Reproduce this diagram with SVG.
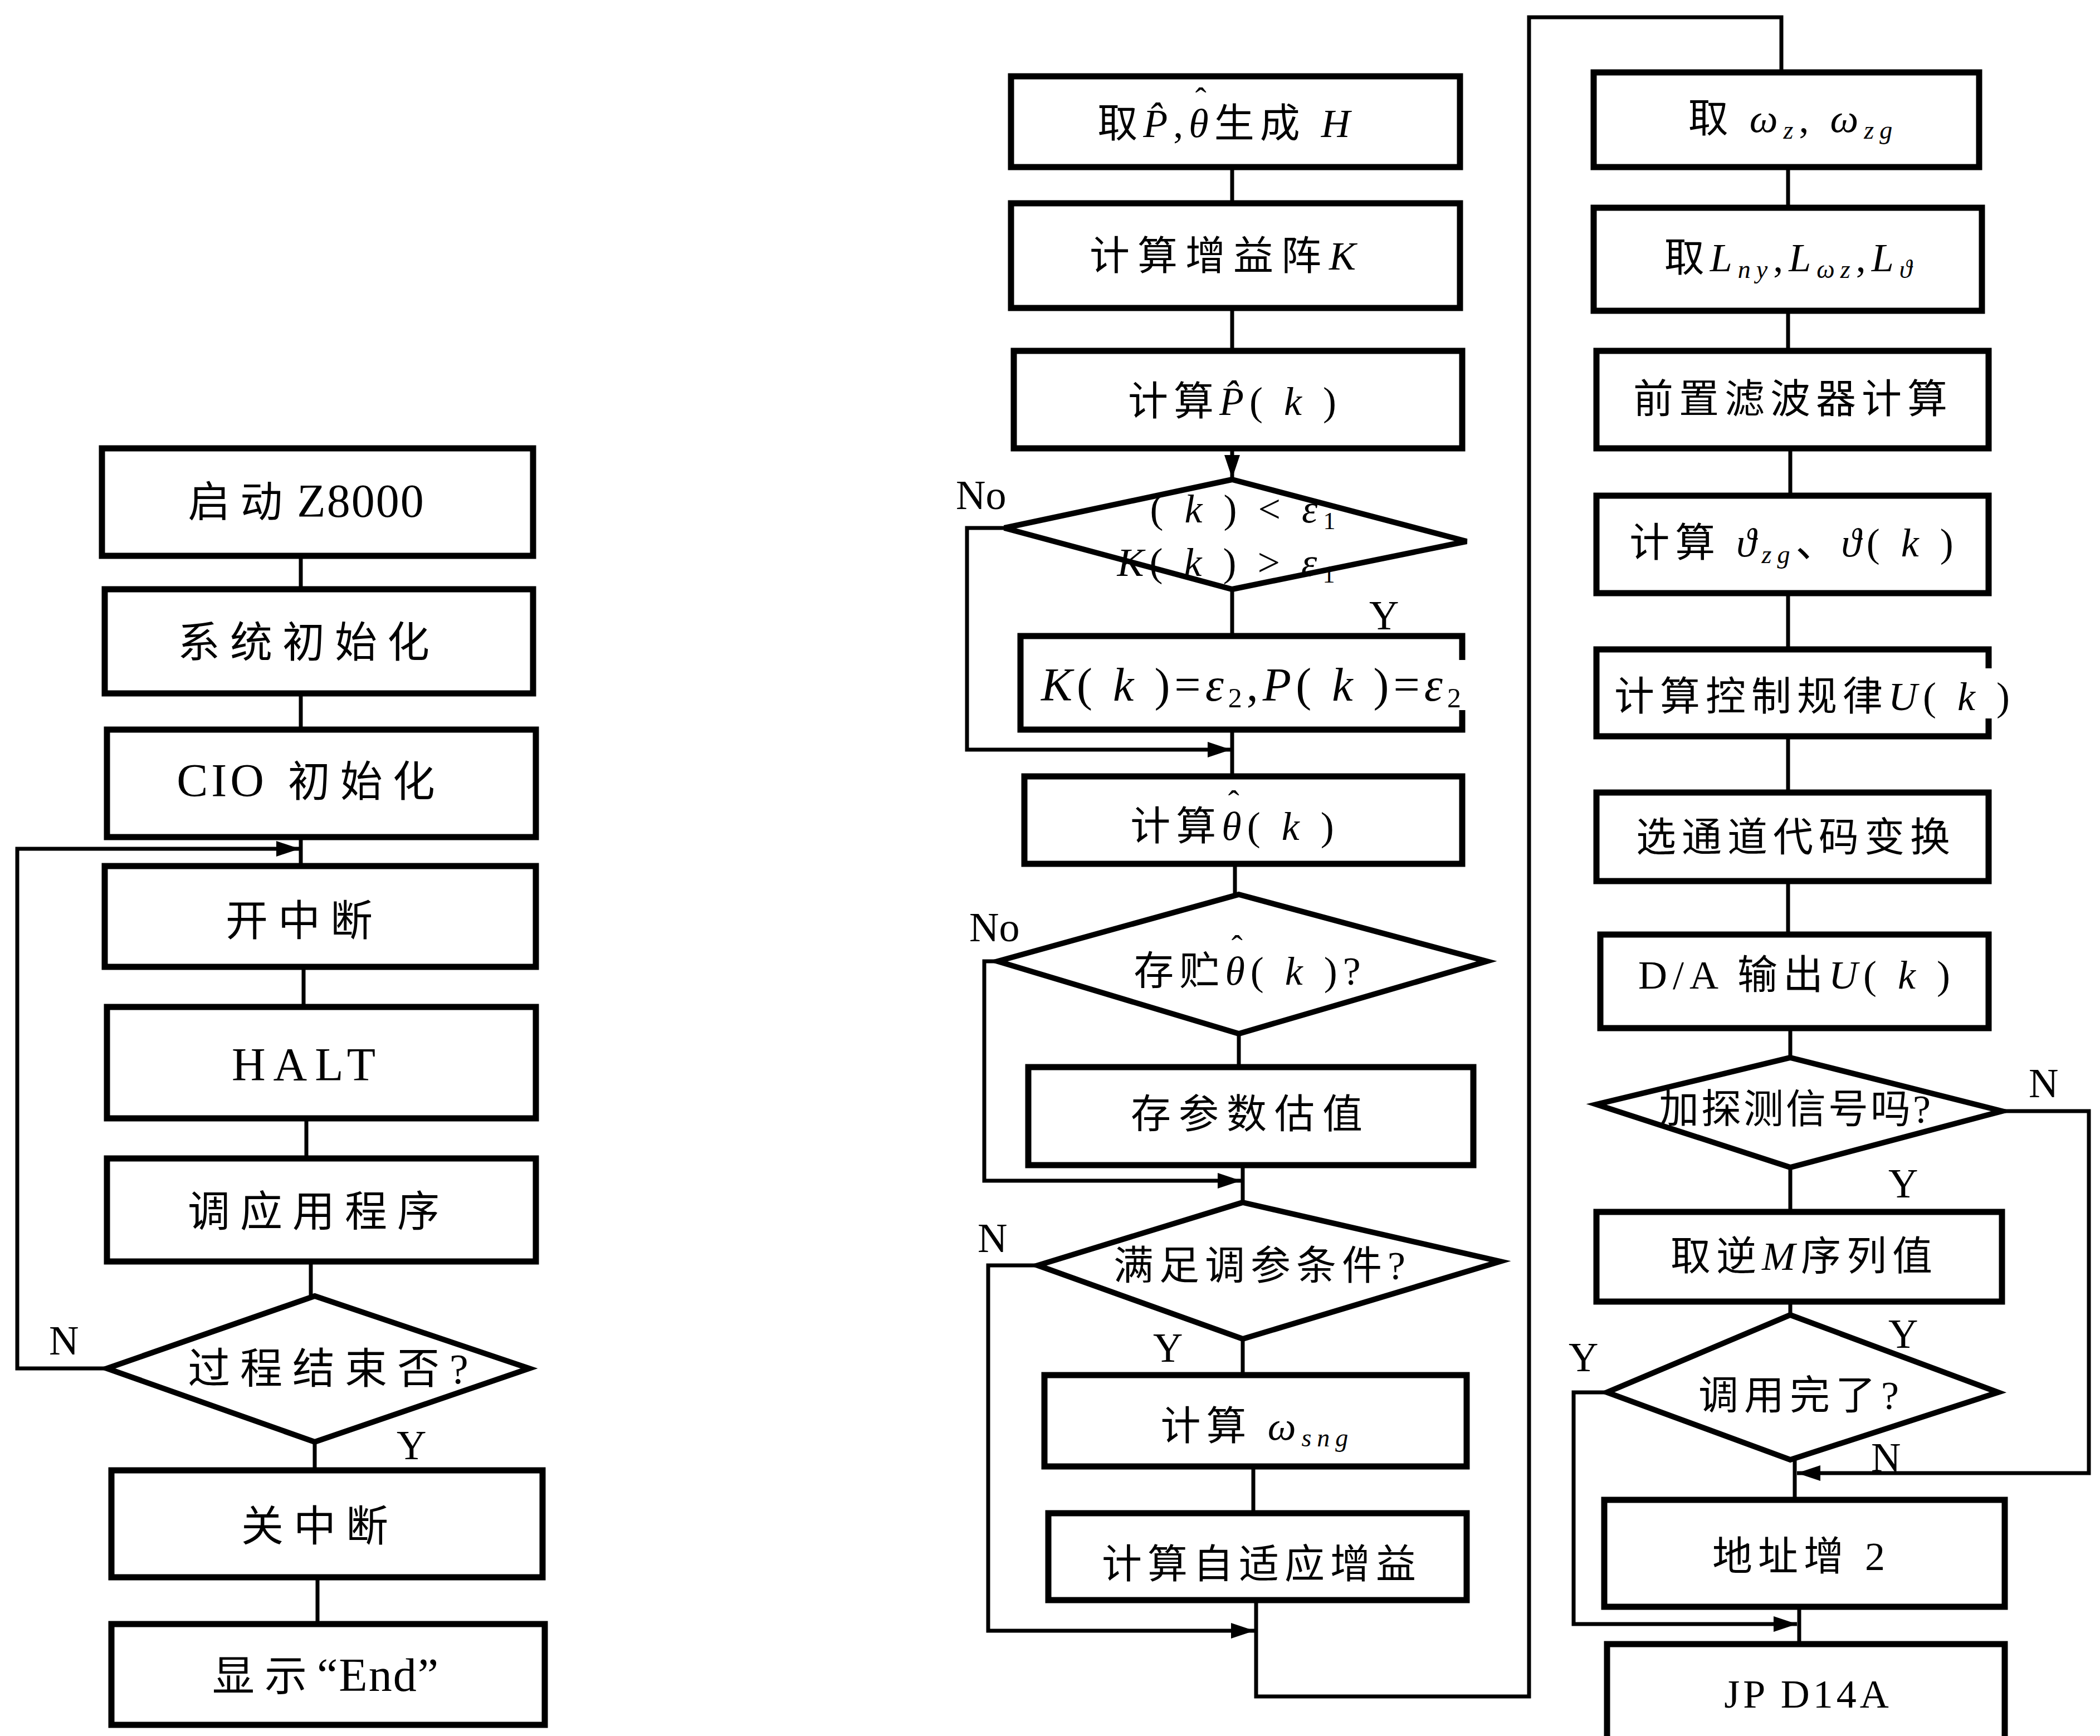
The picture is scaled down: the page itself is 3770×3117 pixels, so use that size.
<svg xmlns="http://www.w3.org/2000/svg" width="3770" height="3117" viewBox="0 0 3770 3117">
<defs>
<style>
.box{fill:none;stroke:#000;stroke-width:11}
.dia{fill:none;stroke:#000;stroke-width:10;stroke-linejoin:miter}
.ln{fill:none;stroke:#000;stroke-width:7}
.t{font-family:"Liberation Serif","DejaVu Serif","Noto Sans CJK SC",serif;font-size:72px;text-anchor:middle;fill:#000;letter-spacing:10px}
.tl{font-size:76px;letter-spacing:18px}
.lab{font-family:"Liberation Serif","DejaVu Serif",serif;font-size:74px;fill:#000}
.m{font-style:italic}
.la{letter-spacing:2px;font-size:84px}
</style>
<marker id="ah" markerWidth="6" markerHeight="4" refX="6" refY="2" orient="auto" markerUnits="strokeWidth"><path d="M0,0 L6,2 L0,4 z" fill="#000"/></marker>
</defs>
<rect width="3770" height="3117" fill="#fff"/>

<g id="connectors">
<path class="ln" d="M540,998 V1058"/>
<path class="ln" d="M540,1245 V1310"/>
<path class="ln" d="M540,1503 V1555"/>
<path class="ln" d="M545,1736 V1808"/>
<path class="ln" d="M550,2008 V2080"/>
<path class="ln" d="M558,2265 V2327"/>
<path class="ln" d="M565,2589 V2640"/>
<path class="ln" d="M570,2832 V2916"/>
<path class="ln" d="M192,2457 H31 V1524 H538" marker-end="url(#ah)"/>
<path class="ln" d="M2212,300 V365"/>
<path class="ln" d="M2212,553 V630"/>
<path class="ln" d="M2212,805 V859" marker-end="url(#ah)"/>
<path class="ln" d="M2212,1058 V1142"/>
<path class="ln" d="M2212,1310 V1394"/>
<path class="ln" d="M1803,948 H1736 V1346 H2210" marker-end="url(#ah)"/>
<path class="ln" d="M2217,1551 V1606"/>
<path class="ln" d="M2224,1856 V1916"/>
<path class="ln" d="M1791,1726 H1767 V2120 H2228" marker-end="url(#ah)"/>
<path class="ln" d="M2231,2092 V2159"/>
<path class="ln" d="M2231,2404 V2469"/>
<path class="ln" d="M1863,2272 H1774 V2928 H2252" marker-end="url(#ah)"/>
<path class="ln" d="M2250,2633 V2717"/>
<path class="ln" d="M2255,2873 V3046 H2745 V31 H3198 V130"/>
<path class="ln" d="M3210,300 V373"/>
<path class="ln" d="M3210,558 V630"/>
<path class="ln" d="M3214,805 V890"/>
<path class="ln" d="M3210,1065 V1166"/>
<path class="ln" d="M3210,1322 V1423"/>
<path class="ln" d="M3210,1582 V1678"/>
<path class="ln" d="M3214,1846 V1899"/>
<path class="ln" d="M3214,2096 V2176"/>
<path class="ln" d="M3214,2337 V2361"/>
<path class="ln" d="M3222,2621 V2693"/>
<path class="ln" d="M3594,1995 H3750 V2645 H3226" marker-end="url(#ah)"/>
<path class="ln" d="M2885,2500 H2825 V2916 H3226" marker-end="url(#ah)"/>
<path class="ln" d="M3230,2885 V2952"/>
</g>

<g id="n_start"><rect class="box" x="183" y="805" width="774" height="193"/>
<text class="t tl" x="550" y="928">启动<tspan class="la" dx="8">Z8000</tspan></text></g>
<g id="n_sysinit"><rect class="box" x="188" y="1058" width="769" height="187"/>
<text class="t tl" x="554" y="1180">系统初始化</text></g>
<g id="n_cioinit"><rect class="box" x="192" y="1310" width="770" height="193"/>
<text class="t tl" x="558" y="1430"><tspan class="la" style="letter-spacing:6px">CIO</tspan> 初始化</text></g>
<g id="n_ei"><rect class="box" x="188" y="1555" width="774" height="181"/>
<text class="t tl" x="546" y="1680">开中断</text></g>
<g id="n_halt"><rect class="box" x="192" y="1808" width="770" height="200"/>
<text class="t tl" x="552" y="1940" style="font-size:84px;letter-spacing:14px">HALT</text></g>
<g id="n_callapp"><rect class="box" x="192" y="2080" width="770" height="185"/>
<text class="t tl" x="572" y="2202">调应用程序</text></g>
<g id="n_done"><polygon class="dia" points="565,2327 950,2457 565,2589 192,2457"/>
<text class="t tl" x="598" y="2484">过程结束否?</text></g>
<g id="n_di"><rect class="box" x="200" y="2640" width="774" height="192"/>
<text class="t tl" x="574" y="2767">关中断</text></g>
<g id="n_end"><rect class="box" x="200" y="2916" width="778" height="181"/>
<text class="t tl" x="585" y="3036">显示<tspan class="la">“End”</tspan></text></g>
<text class="lab" x="88" y="2432">N</text>
<text class="lab" x="712" y="2620">Y</text>

<g id="n_takeP"><rect class="box" x="1815" y="137" width="806" height="163"/>
<text class="t" x="2202" y="246">取<tspan class="m">P̂</tspan>,<tspan class="m">θ</tspan><tspan dx="-34" dy="-48" font-size="60">ˆ</tspan><tspan dx="4" dy="48">生成</tspan><tspan class="m"> H</tspan></text></g>
<g id="n_gainK"><rect class="box" x="1815" y="365" width="806" height="188"/>
<text class="t" x="2202" y="484" style="letter-spacing:14px">计算增益阵<tspan class="m">K</tspan></text></g>
<g id="n_calcP"><rect class="box" x="1820" y="630" width="805" height="175"/>
<text class="t" x="2217" y="745">计算<tspan class="m">P̂</tspan>( <tspan class="m">k</tspan> )</text></g>
<g id="n_dia1"><polygon class="dia" points="2212,861 2633,972 2212,1058 1803,948"/>
<text class="t" x="2236" y="938">( <tspan class="m">k</tspan> ) &lt; <tspan class="m">ε</tspan><tspan font-size="44" dy="12">1</tspan></text>
<text class="t" x="2206" y="1034"><tspan class="m">K</tspan>( <tspan class="m">k</tspan> ) &gt; <tspan class="m">ε</tspan><tspan font-size="44" dy="12">1</tspan></text></g>
<text class="lab" x="1716" y="914">No</text>
<text class="lab" x="2458" y="1130">Y</text>
<g id="n_setKP"><path class="box" d="M2625,1185 V1142 H1832 V1310 H2625 V1275"/>
<text class="t" x="2250" y="1258" style="font-size:84px;letter-spacing:8px"><tspan class="m">K</tspan>( <tspan class="m">k</tspan> )=<tspan class="m">ε</tspan><tspan font-size="50" dy="12">2</tspan><tspan dy="-12">,</tspan><tspan class="m">P</tspan>( <tspan class="m">k</tspan> )=<tspan class="m">ε</tspan><tspan font-size="50" dy="12">2</tspan></text></g>
<g id="n_calcTheta"><rect class="box" x="1839" y="1394" width="786" height="157"/>
<text class="t" x="2217" y="1508">计算<tspan class="m">θ</tspan><tspan dx="-34" dy="-48" font-size="60">ˆ</tspan><tspan dx="4" dy="48">( </tspan><tspan class="m">k</tspan> )</text></g>
<g id="n_dia2"><polygon class="dia" points="2224,1606 2669,1726 2224,1856 1791,1726"/>
<text class="t" x="2244" y="1768">存贮<tspan class="m">θ</tspan><tspan dx="-34" dy="-48" font-size="60">ˆ</tspan><tspan dx="4" dy="48">( </tspan><tspan class="m">k</tspan> )?</text></g>
<text class="lab" x="1740" y="1690">No</text>
<g id="n_store"><rect class="box" x="1846" y="1916" width="799" height="176"/>
<text class="t" x="2245" y="2025" style="letter-spacing:14px">存参数估值</text></g>
<g id="n_dia3"><polygon class="dia" points="2231,2159 2693,2265 2231,2404 1863,2272"/>
<text class="t" x="2266" y="2297">满足调参条件?</text></g>
<text class="lab" x="1755" y="2248">N</text>
<text class="lab" x="2070" y="2445">Y</text>
<g id="n_wsng"><rect class="box" x="1875" y="2469" width="758" height="164"/>
<text class="t" x="2257" y="2585">计算 <tspan class="m">ω</tspan><tspan class="m" font-size="46" dy="12">sng</tspan></text></g>
<g id="n_adapt"><rect class="box" x="1882" y="2717" width="751" height="156"/>
<text class="t" x="2265" y="2833">计算自适应增益</text></g>

<g id="n_takeW"><rect class="box" x="2861" y="130" width="692" height="170"/>
<text class="t" x="3219" y="237">取 <tspan class="m">ω</tspan><tspan class="m" font-size="46" dy="12">z</tspan><tspan dy="-12">, </tspan><tspan class="m">ω</tspan><tspan class="m" font-size="46" dy="12">zg</tspan></text></g>
<g id="n_takeL"><rect class="box" x="2861" y="373" width="697" height="185"/>
<text class="t" x="3215" y="487">取<tspan class="m">L</tspan><tspan class="m" font-size="46" dy="12">ny</tspan><tspan dy="-12">,</tspan><tspan class="m">L</tspan><tspan class="m" font-size="46" dy="12">ωz</tspan><tspan dy="-12">,</tspan><tspan class="m">L</tspan><tspan class="m" font-size="46" dy="12">ϑ</tspan></text></g>
<g id="n_prefilter"><rect class="box" x="2866" y="630" width="704" height="175"/>
<text class="t" x="3219" y="741">前置滤波器计算</text></g>
<g id="n_calcV"><rect class="box" x="2866" y="890" width="704" height="175"/>
<text class="t" x="3221" y="999">计算 <tspan class="m">ϑ</tspan><tspan class="m" font-size="46" dy="12">zg</tspan><tspan dy="-12">、</tspan><tspan class="m">ϑ</tspan>( <tspan class="m">k</tspan> )</text></g>
<g id="n_ctrl"><path class="box" d="M3570,1200 V1166 H2866 V1322 H3570 V1290"/>
<text class="t" x="3258" y="1275">计算控制规律<tspan class="m">U</tspan>( <tspan class="m">k</tspan> )</text></g>
<g id="n_chan"><rect class="box" x="2866" y="1423" width="704" height="159"/>
<text class="t" x="3224" y="1528">选通道代码变换</text></g>
<g id="n_da"><rect class="box" x="2873" y="1678" width="697" height="168"/>
<text class="t" x="3226" y="1775">D/A 输出<tspan class="m">U</tspan>( <tspan class="m">k</tspan> )</text></g>
<g id="n_dia4"><polygon class="dia" points="3214,1899 3594,1995 3214,2096 2866,1983"/>
<text class="t" x="3224" y="2016" style="letter-spacing:4px">加探测信号吗?</text></g>
<text class="lab" x="3642" y="1970">N</text>
<text class="lab" x="3390" y="2150">Y</text>
<g id="n_takeM"><rect class="box" x="2866" y="2176" width="728" height="161"/>
<text class="t" x="3239" y="2280">取逆<tspan class="m">M</tspan>序列值</text></g>
<text class="lab" x="3390" y="2420">Y</text>
<g id="n_dia5"><polygon class="dia" points="3214,2361 3587,2500 3214,2621 2885,2500"/>
<text class="t" x="3234" y="2530">调用完了?</text></g>
<text class="lab" x="2816" y="2462">Y</text>
<text class="lab" x="3359" y="2642">N</text>
<g id="n_addr"><rect class="box" x="2880" y="2693" width="719" height="192"/>
<text class="t" x="3234" y="2819">地址增 2</text></g>
<g id="n_jp"><rect class="box" x="2885" y="2952" width="714" height="200"/>
<text class="t" x="3246" y="3066" style="letter-spacing:6px">JP D14A</text></g>
</svg>
